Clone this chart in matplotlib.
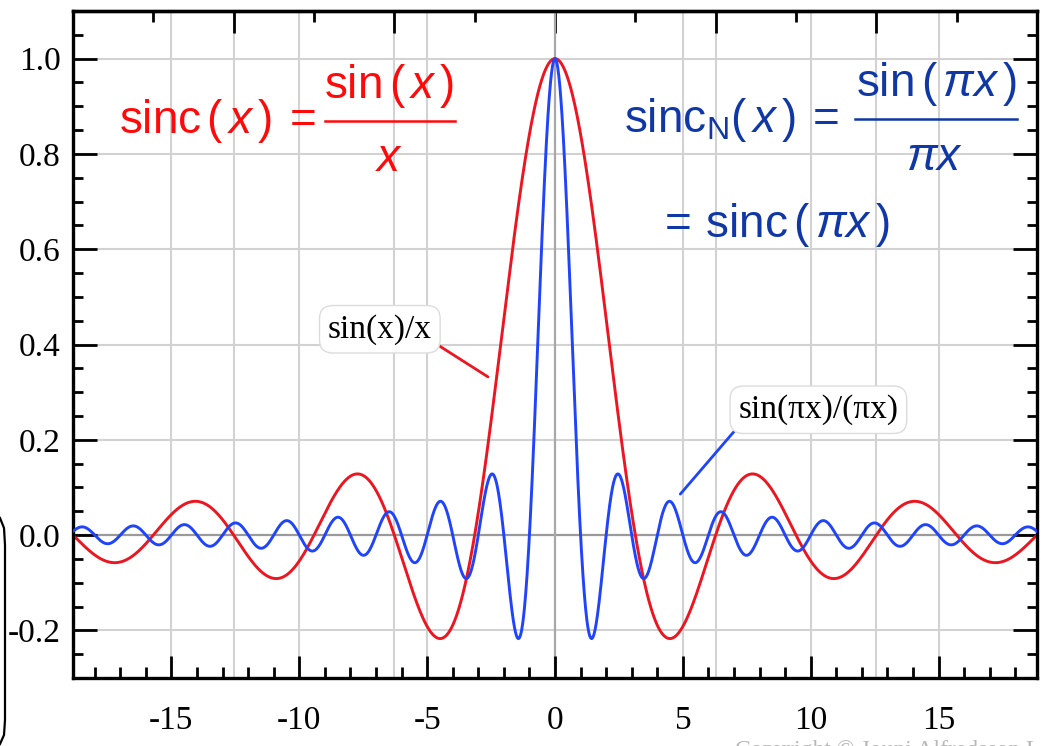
import numpy as np
import matplotlib
matplotlib.use("Agg")
import matplotlib.pyplot as plt

# curves: the two sinc definitions printed on the chart, over x in [-6π, 6π]
X_MIN, X_MAX = -6 * np.pi, 6 * np.pi
x = np.linspace(X_MIN, X_MAX, 3001)
sinc_plain = np.sinc(x / np.pi)      # sin(x)/x
sinc_norm = np.sinc(x)               # sin(πx)/(πx)

X_TICKS = [-15, -10, -5, 0, 5, 10, 15]
Y_TICKS = [-0.2, 0.0, 0.2, 0.4, 0.6, 0.8, 1.0]
PI_EVEN = [k * np.pi for k in (-6, -4, -2, 0, 2, 4, 6)]
PI_ODD = [k * np.pi for k in (-5, -3, -1, 1, 3, 5)]
GRID_X = [-15, -4 * np.pi, -10, -2 * np.pi, -5, 5, 2 * np.pi, 10, 4 * np.pi, 15]
GRID_Y = [-0.2, 0.2, 0.4, 0.6, 0.8, 1.0]

RED, BLUE = "#ec1620", "#1f44fb"
RED_TXT, BLUE_TXT = "#ff0a0a", "#0f37a6"
GRID = "#d2d2d2"

plt.rcParams.update({
    "axes.unicode_minus": False,
    "mathtext.fontset": "custom",
    "mathtext.rm": "Liberation Sans",
    "mathtext.it": "Liberation Sans:italic",
    "mathtext.bf": "Liberation Sans:bold",
})
SERIF = "Liberation Serif"
W, H = 1041, 746

fig = plt.figure(figsize=(W / 100, H / 100), dpi=100)
ax = fig.add_axes([73 / W, 1 - 678 / H, (1037 - 73) / W, (678 - 11) / H])

ax.vlines(GRID_X, -0.3, 1.1, color=GRID, lw=1.5, zorder=0)
ax.hlines(GRID_Y, X_MIN, X_MAX, color=GRID, lw=1.5, zorder=0)
ax.axhline(0, color="#9a9a9a", lw=1.6, zorder=0.5)
ax.axvline(0, color="#a8a8a8", lw=1.6, zorder=0.5)

ax.plot(x, sinc_plain, color=RED, lw=2.1, zorder=2)
ax.plot(x, sinc_norm, color=BLUE, lw=2.1, zorder=3)

ax.set_xlim(X_MIN, X_MAX)
ax.set_ylim(-0.3, 1.1)

ax.set_xticks(X_TICKS)
ax.set_xticklabels([str(v) for v in X_TICKS])
ax.set_xticks(np.arange(-18, 19, 1), minor=True)
ax.set_yticks(Y_TICKS)
ax.set_yticklabels([f"{v:.1f}" for v in Y_TICKS])
ax.set_yticks(np.arange(-0.25, 1.1, 0.05), minor=True)

for lab in ax.get_xticklabels() + ax.get_yticklabels():
    lab.set_fontfamily(SERIF)
    lab.set_fontsize(24)

ax.tick_params(axis="x", which="major", direction="in", length=16, width=2,
               top=False, pad=20)
ax.tick_params(axis="x", which="minor", direction="in", length=8, width=2,
               top=False)
ax.tick_params(axis="y", which="major", direction="in", length=17, width=2,
               right=True, pad=9)
ax.tick_params(axis="y", which="minor", direction="in", length=7, width=2,
               right=True)
for s in ax.spines.values():
    s.set_linewidth(2.4)

top = ax.secondary_xaxis("top")
top.set_xticks(PI_EVEN)
top.set_xticks(PI_ODD, minor=True)
top.set_xticklabels([])
top.tick_params(which="major", direction="in", length=16, width=2)
top.tick_params(which="minor", direction="in", length=8, width=2)
top.spines["top"].set_linewidth(2.4)


def ftext(px, py, s, color, ha="left"):
    # text placed in figure pixels (from top-left), baseline aligned
    fig.text(px / W, 1 - py / H, s, color=color, fontsize=33, ha=ha,
             va="baseline")


def fbar(x0, x1, py, color):
    fig.add_artist(plt.Line2D([x0 / W, x1 / W], [1 - py / H, 1 - py / H],
                              transform=fig.transFigure, color=color, lw=1.8))


# red formula
ftext(119, 133, r"$\mathrm{sinc}\,(\,x\,)\:=$", RED_TXT)
ftext(389, 98, r"$\mathrm{sin}\,(\,x\,)$", RED_TXT, ha="center")
fbar(325, 455, 121, RED_TXT)
ftext(389, 171, r"$x$", RED_TXT, ha="center")

# blue formula
ftext(624, 132, r"$\mathrm{sinc}_{\mathrm{N}}(\,x\,)\:=$", BLUE_TXT)
ftext(937, 96, r"$\mathrm{sin}\,(\,\pi x\,)$", BLUE_TXT, ha="center")
fbar(855, 1017, 119, BLUE_TXT)
ftext(935, 170, r"$\pi x$", BLUE_TXT, ha="center")
ftext(657, 237, r"$=\,\mathrm{sinc}\,(\,\pi x\,)$", BLUE_TXT)

# labelled leaders
box = dict(boxstyle="round,pad=0.25,rounding_size=0.4", fc="white",
           ec="#dcdcdc", lw=1)
ax.annotate("sin(x)/x", xy=(-2.62, 0.332), xytext=(-6.85, 0.432),
            ha="center", va="center", fontsize=24, family=SERIF, bbox=box,
            arrowprops=dict(arrowstyle="-", color=RED, lw=2, shrinkA=0,
                            shrinkB=0, relpos=(0.96, 0.2)), zorder=4)
ax.annotate("sin(\u03c0x)/(\u03c0x)", xy=(4.9, 0.086), xytext=(10.3, 0.263),
            ha="center", va="center", fontsize=24, family=SERIF, bbox=box,
            arrowprops=dict(arrowstyle="-", color=BLUE, lw=2, shrinkA=0,
                            shrinkB=0, relpos=(0.03, 0.14)), zorder=4)

# stray bracket at the left edge and cut-off credit line
fig.add_artist(plt.Line2D([0 / W, 4 / W, 5 / W, 5 / W, 4 / W, 0 / W],
                          [1 - 518 / H, 1 - 528 / H, 1 - 545 / H,
                           1 - 720 / H, 1 - 735 / H, 1 - 744 / H],
                          transform=fig.transFigure, color="black", lw=1.6))
fig.text(735 / W, 1 - 756 / H, "Copyright \u00a9 Jouni Alfredsson LiU",
         family=SERIF, fontsize=17, color="#b8b8b8", ha="left", va="baseline")

fig.savefig("out.png", dpi=100, facecolor="white")
